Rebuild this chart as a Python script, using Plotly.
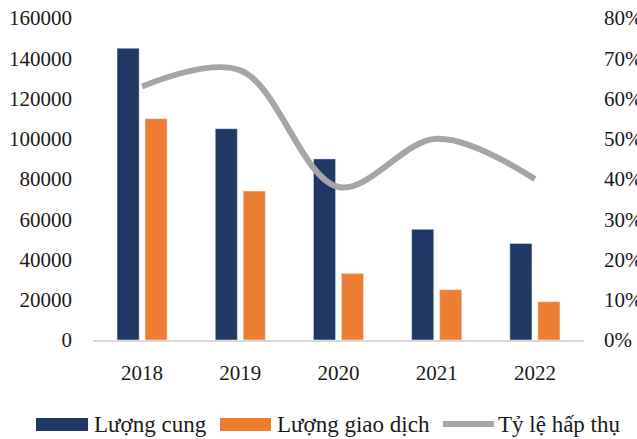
import plotly.graph_objects as go

years = ["2018", "2019", "2020", "2021", "2022"]
supply = [145000, 105000, 90000, 55000, 48000]
transactions = [110000, 74000, 33000, 25000, 19000]
absorption = [0.63, 0.67, 0.38, 0.50, 0.40]

series_names = ["Lượng cung", "Lượng giao dịch", "Tỷ lệ hấp thụ"]

NAVY = "#203864"
ORANGE = "#ED7D31"
GRAY = "#A5A5A5"
FONT = "Liberation Serif"

W, H = 637, 439
ML, MR, MT, MB = 93, 53, 18, 99
PW, PH = W - ML - MR, H - MT - MB


def px(x):
    return (x - ML) / PW


def py(y):
    return (H - MB - y) / PH


fig = go.Figure()
fig.add_trace(go.Bar(x=years, y=supply, name=series_names[0], marker_color=NAVY))
fig.add_trace(go.Bar(x=years, y=transactions, name=series_names[1], marker_color=ORANGE))
fig.add_trace(go.Scatter(x=years, y=absorption, name=series_names[2], yaxis="y2",
                         mode="lines",
                         line=dict(color=GRAY, width=6, shape="spline", smoothing=1.0)))

# manual legend (wide swatches like the reference)
shapes = []
annotations = []
legend_items = [
    (series_names[0], NAVY, "rect", 36, 88, 92),
    (series_names[1], ORANGE, "rect", 220, 271, 275),
    (series_names[2], GRAY, "line", 443, 494, 496),
]
for name, col, kind, x0, x1, tx in legend_items:
    if kind == "rect":
        shapes.append(dict(type="rect", xref="paper", yref="paper",
                           x0=px(x0), x1=px(x1), y0=py(431), y1=py(418),
                           fillcolor=col, line=dict(width=0)))
    else:
        shapes.append(dict(type="line", xref="paper", yref="paper",
                           x0=px(x0), x1=px(x1), y0=py(424), y1=py(424),
                           line=dict(color=col, width=6)))
    annotations.append(dict(text=name, xref="paper", yref="paper", x=px(tx), y=py(424),
                            xanchor="left", yanchor="middle", showarrow=False,
                            font=dict(family=FONT, size=23, color="#1a1a1a")))

fig.update_layout(
    width=W, height=H,
    margin=dict(l=ML, r=MR, t=MT, b=MB, autoexpand=False),
    paper_bgcolor="white", plot_bgcolor="white",
    font=dict(family=FONT, size=21, color="#1a1a1a"),
    barmode="group", bargap=0.43, bargroupgap=0.21,
    showlegend=False,
    xaxis=dict(showgrid=False, showline=True, linecolor="#D9D9D9", linewidth=1.5,
               ticks="", ticklabelstandoff=13),
    yaxis=dict(range=[0, 160000], dtick=20000, showgrid=False, showline=False,
               zeroline=False, ticklabelstandoff=20, tickformat="d"),
    yaxis2=dict(range=[0, 0.8], dtick=0.1, overlaying="y", side="right",
                showgrid=False, showline=False, zeroline=False, tickformat=".0%",
                ticklabelstandoff=19),
    shapes=shapes,
    annotations=annotations,
)

fig.write_html("out.html", config={"displayModeBar": False},
               post_script="document.body.style.margin='0';document.body.style.overflow='hidden';")
